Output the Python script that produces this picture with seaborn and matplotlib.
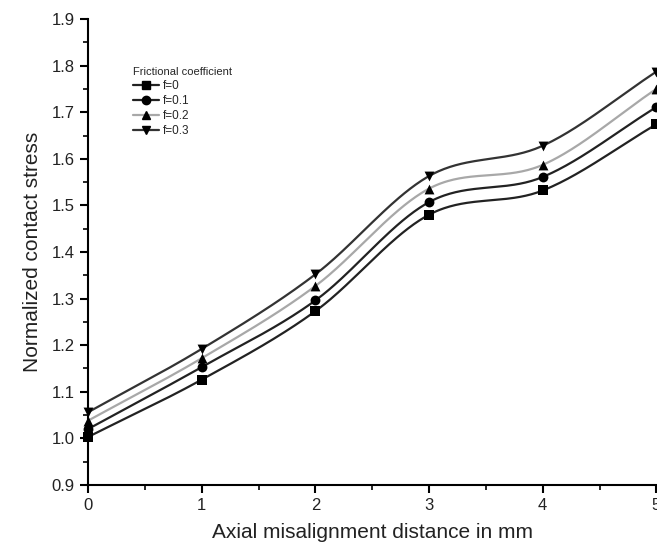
import numpy as np
import matplotlib
matplotlib.use("Agg")
import matplotlib.pyplot as plt
import seaborn as sns
import pandas as pd
from matplotlib.lines import Line2D
from matplotlib.ticker import MultipleLocator, FormatStrFormatter

# ---- data ----
distance = [0, 1, 2, 3, 4, 5]
f0 = [1.003, 1.126, 1.273, 1.480, 1.532, 1.674]
f01 = [1.020, 1.153, 1.296, 1.507, 1.561, 1.711]
f02 = [1.038, 1.172, 1.327, 1.536, 1.587, 1.750]
f03 = [1.056, 1.192, 1.352, 1.563, 1.628, 1.787]
series_labels = ["f=0", "f=0.1", "f=0.2", "f=0.3"]
legend_title = "Frictional coefficient"
x_label = "Axial misalignment distance in mm"
y_label = "Normalized contact stress"

sns.set_theme(style="white")
plt.rcParams["font.family"] = ["Liberation Sans", "DejaVu Sans"]


def smooth_curve(x, y, per_seg=60):
    """Cubic Hermite (Catmull-Rom) curve through the data points."""
    x = np.asarray(x, float)
    y = np.asarray(y, float)
    k = len(x)
    m = np.empty(k)
    m[0] = (y[1] - y[0]) / (x[1] - x[0])
    m[-1] = (y[-1] - y[-2]) / (x[-1] - x[-2])
    for i in range(1, k - 1):
        m[i] = (y[i + 1] - y[i - 1]) / (x[i + 1] - x[i - 1])
    xs, ys = [], []
    for i in range(k - 1):
        h = x[i + 1] - x[i]
        t = np.linspace(0, 1, per_seg, endpoint=(i == k - 2))
        h00 = 2 * t**3 - 3 * t**2 + 1
        h10 = t**3 - 2 * t**2 + t
        h01 = -2 * t**3 + 3 * t**2
        h11 = t**3 - t**2
        xs.append(x[i] + t * h)
        ys.append(h00 * y[i] + h10 * h * m[i] + h01 * y[i + 1] + h11 * h * m[i + 1])
    return np.concatenate(xs), np.concatenate(ys)


fig = plt.figure(figsize=(6.57, 5.6), dpi=100)
ax = fig.add_axes([0.134, 0.134, 0.865, 0.832])

series = [f0, f01, f02, f03]
markers = ["s", "o", "^", "v"]
line_colors = ["#222222", "#222222", "#a8a8a8", "#333333"]

for vals, lc in zip(series, line_colors):
    xs, ys = smooth_curve(distance, vals)
    curve = pd.DataFrame({"x": xs, "y": ys})
    sns.lineplot(data=curve, x="x", y="y", ax=ax, color=lc, linewidth=1.6,
                 estimator=None, sort=False, legend=False)

for vals, mk in zip(series, markers):
    pts = pd.DataFrame({"x": distance, "y": vals})
    sns.scatterplot(data=pts, x="x", y="y", ax=ax, marker=mk, color="black",
                    s=50, edgecolor="black", linewidth=0, zorder=5, legend=False,
                    clip_on=False)

ax.set_xlim(0, 5)
ax.set_ylim(0.9, 1.9)
ax.xaxis.set_major_locator(MultipleLocator(1))
ax.xaxis.set_minor_locator(MultipleLocator(0.5))
ax.yaxis.set_major_locator(MultipleLocator(0.1))
ax.yaxis.set_minor_locator(MultipleLocator(0.05))
ax.yaxis.set_major_formatter(FormatStrFormatter("%.1f"))
ax.tick_params(which="major", direction="out", length=6, width=1.5,
               labelsize=12, color="black", labelcolor="#222222",
               bottom=True, left=True)
ax.tick_params(which="minor", direction="out", length=3.5, width=1.2,
               color="black", bottom=True, left=True)
for s in ["top", "right"]:
    ax.spines[s].set_visible(False)
for s in ["left", "bottom"]:
    ax.spines[s].set_color("black")
    ax.spines[s].set_linewidth(1.5)

ax.set_xlabel(x_label, fontsize=15, color="#222222", labelpad=7)
ax.set_ylabel(y_label, fontsize=15, color="#222222", labelpad=7)

handles = [Line2D([0], [0], color=lc, marker=mk, markersize=6,
                  markerfacecolor="black", markeredgecolor="black", linewidth=1.6)
           for mk, lc in zip(markers, line_colors)]
leg = ax.legend(handles, series_labels, title=legend_title, loc="upper left",
                bbox_to_anchor=(0.065, 0.915), frameon=False, fontsize=8.5,
                title_fontsize=8, handlelength=2.2, handletextpad=0.3,
                labelspacing=0.25, borderpad=0.2)
leg._legend_box.align = "left"

fig.savefig("out.png", dpi=100)
